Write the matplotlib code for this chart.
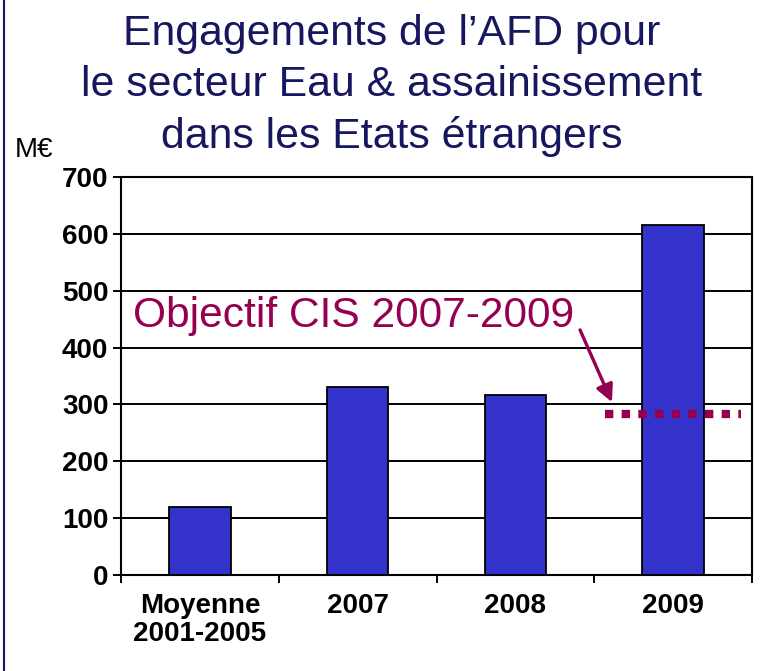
import matplotlib
matplotlib.use('Agg')
import matplotlib.pyplot as plt
from matplotlib.lines import Line2D

plt.rcParams['font.family'] = ['Liberation Sans', 'DejaVu Sans']

categories = ['Moyenne\n2001-2005', '2007', '2008', '2009']
values = [120, 330, 316, 615]
objective = 284
title_lines = ["Engagements de l\u2019AFD pour",
               "le secteur Eau & assainissement",
               "dans les Etats \u00e9trangers"]

navy = '#17175f'
bar_col = '#3333cc'
maroon = '#960050'

fig = plt.figure(figsize=(7.67, 6.71), dpi=100)
ax = fig.add_axes([121 / 767, 1 - 575 / 671, 631 / 767, 398 / 671])

x = list(range(len(categories)))
ax.bar(x, values, width=0.39, color=bar_col, edgecolor='black', linewidth=1.3, zorder=3)

ax.set_xlim(-0.5, 3.5)
ax.set_ylim(0, 700)
ax.set_yticks(range(0, 701, 100))
ax.yaxis.grid(True, color='black', linewidth=1.4, zorder=0)
ax.set_axisbelow(True)

# category boundaries as ticks, labels on the centres
ax.set_xticks([-0.5, 0.5, 1.5, 2.5, 3.5])
ax.set_xticklabels([])
ax.set_xticks(x, minor=True)
ax.set_xticklabels(categories, minor=True, fontsize=20, fontweight='bold', linespacing=1.1)
ax.tick_params(axis='x', which='minor', length=0, pad=13)
ax.tick_params(axis='x', which='major', length=6, width=1.4, direction='out')
ax.tick_params(axis='y', length=6, width=1.4, pad=3, labelsize=20)
for lab in ax.get_yticklabels():
    lab.set_fontweight('bold')
for s in ax.spines.values():
    s.set_linewidth(1.5)

# objective line
ax.plot([2.568, 3.43], [objective, objective], color=maroon, linewidth=6,
        dashes=(1, 1), solid_capstyle='butt', dash_capstyle='butt', zorder=4)
ax.text(-0.424, 436, 'Objectif CIS 2007-2009', color=maroon, fontsize=30.6,
        ha='left', va='baseline', zorder=5,
        bbox=dict(facecolor='white', edgecolor='none', pad=1))
ax.annotate('', xy=(2.612, 304), xytext=(2.41, 431),
            arrowprops=dict(arrowstyle='-|>', color=maroon, lw=2.4,
                            mutation_scale=26, shrinkA=0, shrinkB=0), zorder=5)

# title
for i, line in enumerate(title_lines):
    fig.text(392 / 767, 1 - (45 + 51.5 * i) / 671, line, color=navy, fontsize=30.8,
             ha='center', va='baseline')

fig.text(15 / 767, 1 - 157 / 671, 'M\u20ac', fontsize=20, ha='left', va='baseline')

fig.add_artist(Line2D([4 / 767, 4 / 767], [0, 1], color=navy, linewidth=1.5))

fig.savefig('out.png', dpi=100)
